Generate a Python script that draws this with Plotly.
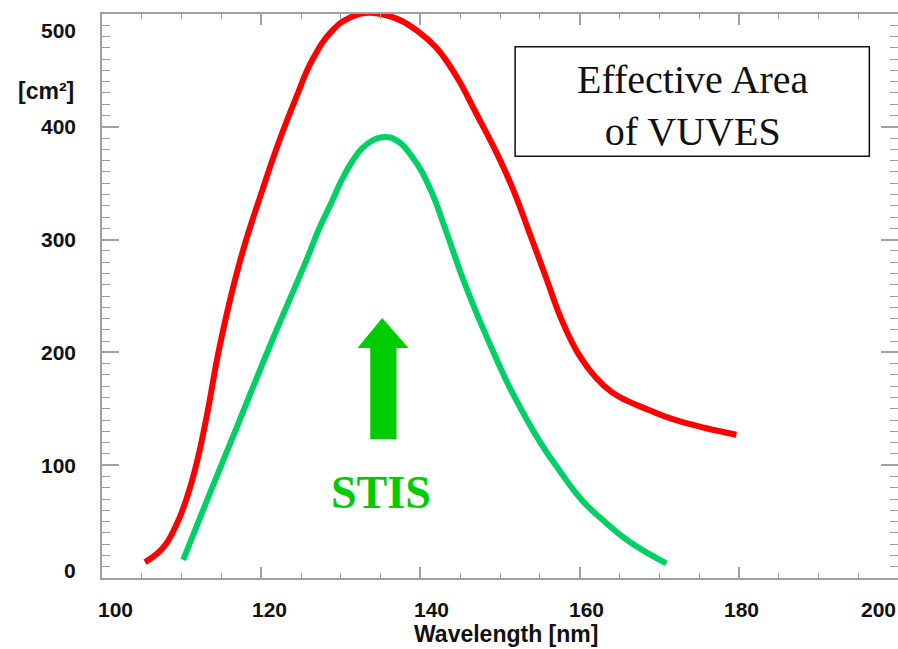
import plotly.graph_objects as go

# ---- data ----
red_wl = [105.4, 107.7, 109.4, 110.7, 111.9, 113.2, 114.8, 117.3, 120.2, 122.3, 124.4, 126.4,
          128.9, 131.2, 133.4, 135.6, 137.6, 139.6, 142.0, 144.5, 147.0, 149.5, 151.5, 153.6,
          155.8, 157.8, 159.9, 162.0, 164.0, 166.0, 168.7, 171.6, 175.8, 179.7]
red_area = [14, 27, 48, 72, 102, 145, 206, 280, 345, 388, 426, 459,
            485, 497, 501, 499, 494, 485, 470, 445, 412, 378, 347, 308,
            266, 228, 198, 178, 165, 157, 149, 141, 133, 127]

green_wl = [110.2, 113.2, 117.3, 121.4, 125.7, 127.3, 128.9, 130.2, 131.4, 132.7, 134.0, 135.5,
            137.0, 139.0, 141.1, 143.2, 145.2, 147.4, 149.5, 151.5, 154.9, 157.4, 160.3, 163.3,
            166.5, 170.9]
green_area = [16, 69, 140, 211, 282, 310, 334, 354, 369, 381, 388, 391,
              388, 373, 347, 308, 268, 229, 195, 165, 122, 96, 69, 49,
              31, 13]

x_ticks = [100, 120, 140, 160, 180, 200]
x_tick_labels = ["100", "120", "140", "160", "180", "200"]
y_ticks = [0, 100, 200, 300, 400, 500]
y_tick_labels = ["0", "100", "200", "300", "400", "500"]

title_text = "Effective Area<br>of VUVES"
stis_text = "STIS"
y_unit = "[cm²]"
x_title = "Wavelength [nm]"

# ---- figure ----
fig = go.Figure()
fig.add_trace(go.Scatter(x=red_wl, y=red_area, mode="lines",
                         line=dict(color="#ff0000", width=6, shape="spline", smoothing=1.3),
                         hoverinfo="skip"))
fig.add_trace(go.Scatter(x=green_wl, y=green_area, mode="lines",
                         line=dict(color="#00d066", width=6, shape="spline", smoothing=1.3),
                         hoverinfo="skip"))
# empty trace to activate the mirrored (top/right) tick axes
fig.add_trace(go.Scatter(x=[], y=[], xaxis="x2", yaxis="y2", hoverinfo="skip"))

axis_col = "#a0a0a0"
x_common = dict(range=[100, 200], showgrid=False, zeroline=False,
                showline=True, linecolor=axis_col, linewidth=2,
                ticks="inside", tickvals=x_ticks, ticklen=11, tickwidth=1.5, tickcolor=axis_col,
                showticklabels=False,
                minor=dict(dtick=5, ticks="inside", ticklen=5, tickwidth=1.2, tickcolor=axis_col))
y_common = dict(range=[0, 500], showgrid=False, zeroline=False,
                showline=True, linecolor=axis_col, linewidth=2,
                ticks="inside", tickvals=y_ticks, ticklen=17, tickwidth=1.5, tickcolor=axis_col,
                showticklabels=False,
                minor=dict(dtick=10, ticks="inside", ticklen=8, tickwidth=1.2, tickcolor=axis_col))

lab_font = dict(family="Liberation Sans", size=21, color="#111111", weight="bold")
annotations = []
x_shifts = [13, 8, 11, 7, 3, -20]
for v, t, s in zip(x_ticks, x_tick_labels, x_shifts):
    annotations.append(dict(x=v, y=0, xref="x", yref="paper", text=t, showarrow=False,
                            xanchor="center", yanchor="middle", xshift=s, yshift=-31, font=lab_font))
y_shifts = [8, 0, 0, 0, 0, -16]
for v, t, s in zip(y_ticks, y_tick_labels, y_shifts):
    annotations.append(dict(x=0, y=v, xref="paper", yref="y", text=t, showarrow=False,
                            xanchor="right", yanchor="middle", xshift=-24, yshift=s, font=lab_font))
annotations.append(dict(x=0, y=1, xref="paper", yref="paper", text=y_unit, showarrow=False,
                        xanchor="right", yanchor="middle", xshift=-26, yshift=-77,
                        font=dict(family="Liberation Sans", size=23, color="#111111", weight="bold")))
annotations.append(dict(x=150.8, y=0, xref="x", yref="paper", text=x_title, showarrow=False,
                        xanchor="center", yanchor="middle", yshift=-56,
                        font=dict(family="Liberation Sans", size=23, color="#111111", weight="bold")))
annotations.append(dict(x=174.2, y=419, xref="x", yref="y", text=title_text, showarrow=False,
                        xanchor="center", yanchor="middle", align="center",
                        font=dict(family="Liberation Serif", size=40, color="#111111")))
annotations.append(dict(x=135.0, y=76, xref="x", yref="y", text=stis_text, showarrow=False,
                        xanchor="center", yanchor="middle",
                        font=dict(family="Liberation Serif", size=46, color="#00cc00", weight="bold")))

shapes = [
    dict(type="rect", xref="x", yref="y", x0=151.9, x1=196.4, y0=374, y1=471,
         line=dict(color="#111111", width=1.5), fillcolor="rgba(0,0,0,0)"),
    dict(type="path", xref="x", yref="y",
         path="M 133.7 123 L 137.0 123 L 137.0 204 L 138.5 204 L 135.2 230.5 L 132.1 204 L 133.7 204 Z",
         fillcolor="#00cc00", line=dict(color="#00cc00", width=0)),
]

fig.update_layout(width=898, height=649, margin=dict(l=102, r=0, t=14, b=71),
                  paper_bgcolor="white", plot_bgcolor="white", showlegend=False,
                  xaxis=x_common, yaxis=y_common,
                  xaxis2=dict(x_common, overlaying="x", side="top"),
                  yaxis2=dict(y_common, overlaying="y", side="right"),
                  annotations=annotations, shapes=shapes)

fig.write_html("out.html")
